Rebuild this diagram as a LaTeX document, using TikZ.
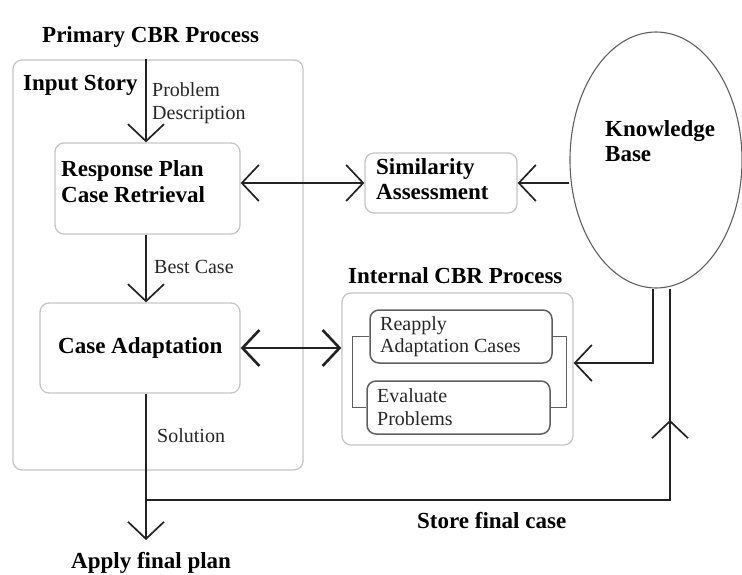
\documentclass[tikz,border=0pt]{standalone}
\usepackage{fontspec}
\setmainfont{Liberation Serif}
\usetikzlibrary{arrows.meta,shapes.geometric,calc}
\definecolor{boxgray}{RGB}{196,196,196}
\definecolor{innergray}{RGB}{95,95,95}
\definecolor{linecol}{RGB}{35,35,35}
\begin{document}
\begin{tikzpicture}[x=1pt,y=-1pt,
  myb/.tip={Straight Barb[length=17pt,width=36pt]},
  box/.style={draw=boxgray, line width=1.3pt, rounded corners=9pt, inner sep=0pt},
  ibox/.style={draw=innergray, line width=1.5pt, rounded corners=9pt, inner sep=0pt},
  conn/.style={draw=linecol, line width=1.7pt},
  brk/.style={draw=innergray, line width=1.4pt},
  hb/.style={font=\fontsize{23}{27}\selectfont\bfseries, inner sep=0pt, anchor=base west},
  lb/.style={font=\fontsize{20}{23}\selectfont, inner sep=0pt, anchor=base west, text=black!85}
]
\useasboundingbox (0,0) rectangle (742,575);

% boxes
\node[box, minimum width=290pt, minimum height=410pt] (primary) at (158,265) {};
\node[box, minimum width=185pt, minimum height=91pt] (resp) at (147.5,188.5) {};
\node[box, minimum width=200pt, minimum height=90pt] (ca) at (140,348) {};
\node[box, minimum width=152pt, minimum height=60pt] (sim) at (441,183) {};
\node[box, minimum width=231pt, minimum height=152pt] (internal) at (457.5,369) {};
\node[ibox, minimum width=182pt, minimum height=53pt] (reapply) at (461,336.5) {};
\node[ibox, minimum width=183pt, minimum height=53pt] (evaluate) at (458.5,407.5) {};
\node[draw=innergray, line width=1.1pt, ellipse, minimum width=172pt, minimum height=256pt, inner sep=0pt] (kb) at (656,160) {};

% texts
\node[hb] (tprim) at (42,43) {Primary CBR Process};
\node[hb] (tinput) at (23,91) {Input Story};
\node[lb] (tprob1) at (152,97) {Problem};
\node[lb] (tprob2) at (152,120) {Description};
\node[hb] (tresp1) at (61,177) {Response Plan};
\node[hb] (tresp2) at (61,203) {Case Retrieval};
\node[lb] (tbest) at (154,273) {Best Case};
\node[hb] (tca) at (58,353) {Case Adaptation};
\node[lb] (tsol) at (157,442) {Solution};
\node[hb] (tsim1) at (376,175) {Similarity};
\node[hb] (tsim2) at (376,200) {Assessment};
\node[hb] (tkb1) at (605,137) {Knowledge};
\node[hb] (tkb2) at (605,162) {Base};
\node[hb] (tint) at (348,283) {Internal CBR Process};
\node[lb] (trea1) at (380,330) {Reapply};
\node[lb] (trea2) at (380,352) {Adaptation Cases};
\node[lb] (teva1) at (377,402) {Evaluate};
\node[lb] (teva2) at (377,425) {Problems};
\node[hb] (tstore) at (417,528) {Store final case};
\node[hb] (tapply) at (71,568) {Apply final plan};

% coordinates
\coordinate (ax) at (146,0);
\coordinate (j) at (146,500);
\coordinate (tip) at (146,540);
\coordinate (c1) at (670,500);
\coordinate (up) at (670,420);
\coordinate (kbin) at (653,0);
\coordinate (kbout) at (670,0);

% connectors
\draw[conn,-myb] (primary.north -| ax) -- (resp.north -| ax);
\draw[conn,-myb] (resp.south -| ax) -- (ca.north -| ax);
\draw[conn,-myb] (ca.south -| ax) -- (tip);
\draw[conn] (j) -- (c1) -- (kb.south -| kbout);
\draw[conn,-myb] (c1) -- (up);
\draw[conn,myb-myb] (sim.west -| resp.east) -- (sim.west);
\draw[conn,-myb] (kb.west |- sim.east) -- (sim.east);
\draw[conn,line width=2.6pt,myb-myb] (ca.east) -- (ca.east -| internal.west);
\draw[conn,-myb] (kb.south -| kbin) |- ($(internal.east)+(0,-6)$);

% brackets
\draw[brk] (reapply.west) -- ++(-17,0) |- (evaluate.west);
\draw[brk] (reapply.east) -- ++(14,0) |- (evaluate.east);
\end{tikzpicture}
\end{document}
